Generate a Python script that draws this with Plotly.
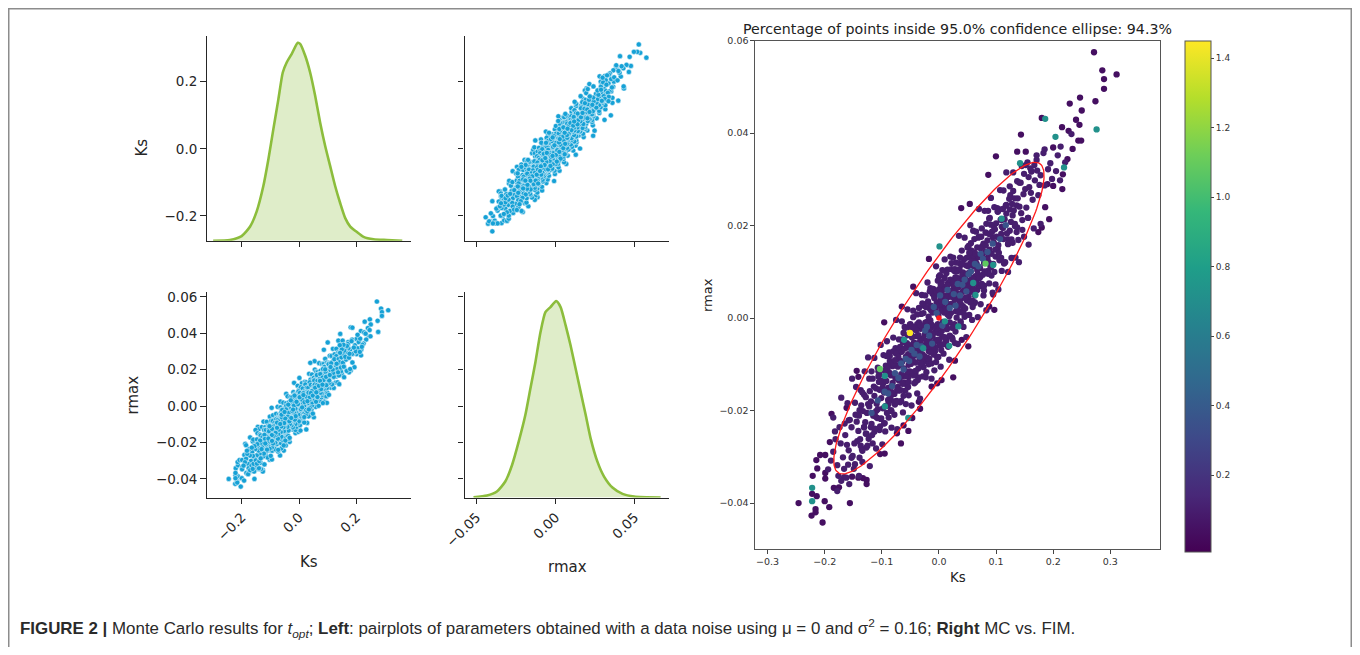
import numpy as np
import plotly.graph_objects as go

# The page body keeps its default 8px margin, so the figure is 16px smaller than the window
PAGE_W, PAGE_H, BODY = 1360, 655, 8
W, H = PAGE_W - 2 * BODY, PAGE_H - 2 * BODY

# ---------------- data ----------------
# KDE of Ks (diagonal, top-left)
kde_ks_x = [-0.300, -0.2415, -0.2005, -0.171, -0.148, -0.125, -0.1073, -0.090, -0.0724, -0.057,
            -0.043, -0.0256, -0.0047, 0.0035, 0.021, 0.0385, 0.056, 0.0735, 0.091, 0.1085,
            0.126, 0.1435, 0.161, 0.1785, 0.1995, 0.225, 0.260, 0.307, 0.360]
kde_ks_d = [0.0, 0.02, 0.13, 0.40, 0.83, 1.54, 2.30, 3.15, 4.00, 4.76,
            5.05, 5.29, 5.60, 5.57, 5.24, 4.76, 4.10, 3.34, 2.68, 2.11,
            1.54, 1.06, 0.64, 0.40, 0.26, 0.11, 0.04, 0.02, 0.0]
# KDE of rmax (diagonal, bottom-right)
kde_rmax_x = [-0.0519, -0.0434, -0.0371, -0.0318, -0.0275, -0.0233, -0.0191, -0.0159, -0.0127, -0.0095,
              -0.0064, -0.0032, 0.0004, 0.0032, 0.0064, 0.0095, 0.0127, 0.0159, 0.0191, 0.0222,
              0.0265, 0.0307, 0.036, 0.0424, 0.0498, 0.0665]
kde_rmax_d = [0.05, 0.30, 0.91, 2.44, 4.97, 8.53, 12.59, 16.65, 20.71, 25.28,
              28.32, 29.09, 30.0, 29.09, 26.29, 23.25, 19.70, 16.14, 12.59, 9.04,
              5.48, 3.20, 1.52, 0.56, 0.15, 0.0]

# Monte Carlo samples (Ks, rmax), grouped by the density colour seen in the right panel
mc_body_pos = [
    (-0.008,-0.0052),(0.003,0.0041),(-0.002,-0.0013),(0.007,0.0068),(-0.006,0.0021),(0.001,-0.0046),(0.009,0.0012),
    (-0.004,0.0057),(0.005,-0.0028),(-0.009,-0.0079),(0.002,0.0093),(-0.001,0.0006),(0.006,0.0025),(-0.007,-0.0031),
    (0.004,-0.0069),(-0.003,0.0034),(0.008,0.0049),(-0.005,-0.0095),(0.000,0.0062),(-0.010,0.0014),(0.010,-0.0041),
    (0.002,-0.0017),(-0.006,-0.0064),(0.006,0.0104),(-0.002,0.0081),(0.004,0.0017),(-0.008,0.0043),(0.001,0.0029),
    (0.009,-0.0012),(-0.004,-0.0022),(0.007,-0.0057),(-0.001,-0.0084),(0.003,0.0073),(-0.009,-0.0018),(0.005,0.0036),
    (-0.003,-0.0047),
    (0.012,0.0021),(0.018,0.0075),(0.025,0.0032),(0.014,-0.0024),(0.029,0.0088),(0.021,0.0011),(0.016,0.0049),
    (0.027,-0.0013),(0.011,0.0062),(0.023,0.0054),(0.019,-0.0038),(0.013,0.0097),(0.028,0.0041),(0.015,0.0008),
    (0.022,0.0119),(0.026,0.0067),(0.017,0.0027),(0.024,-0.0046),(0.011,-0.0009),(0.020,0.0083),(0.030,0.0015),
    (0.014,0.0044),(0.027,0.0102),(0.019,0.0059),(0.012,0.0036),(0.023,-0.0021),(0.016,-0.0062),(0.028,0.0058),
    (0.021,0.0031),(0.025,0.0079),(0.013,0.0016),(0.018,0.0004),(0.029,-0.0029),(0.015,0.0071),(0.022,0.0046),
    (0.032,0.0049),(0.041,0.0093),(0.047,0.0061),(0.035,0.0012),(0.044,0.0127),(0.038,0.0071),(0.049,0.0038),
    (0.031,0.0087),(0.043,0.0024),(0.036,0.0106),(0.046,0.0089),(0.039,0.0042),(0.033,0.0018),(0.048,0.0114),
    (0.042,0.0057),(0.034,0.0066),(0.045,0.0003),(0.037,0.0131),(0.050,0.0076),(0.040,0.0028),(0.032,0.0101),
    (0.047,0.0045),(0.035,0.0079),(0.044,0.0068),(0.038,-0.0011),(0.041,0.0117),(0.049,0.0096),(0.033,0.0053),
    (0.046,0.0021),(0.036,0.0035),(0.043,0.0084),
    (0.052,0.0066),(0.058,0.0128),(0.064,0.0091),(0.055,0.0034),(0.067,0.0153),(0.061,0.0112),(0.053,0.0098),
    (0.069,0.0071),(0.057,0.0146),(0.063,0.0049),(0.066,0.0118),(0.054,0.0081),(0.060,0.0136),(0.068,0.0095),
    (0.056,0.0057),(0.062,0.0171),(0.051,0.0112),(0.065,0.0076),(0.059,0.0024),(0.070,0.0132),(0.053,0.0141),
    (0.067,0.0104),(0.058,0.0087),(0.064,0.0139),(0.055,0.0119),(0.061,0.0063),
    (0.072,0.0108),(0.078,0.0161),(0.084,0.0127),(0.075,0.0074),(0.088,0.0182),(0.081,0.0143),(0.073,0.0151),
    (0.086,0.0096),(0.079,0.0119),(0.083,0.0204),(0.076,0.0133),(0.089,0.0148),(0.071,0.0087),(0.085,0.0168),
    (0.080,0.0101),(0.074,0.0176),(0.087,0.0121),(0.077,0.0094),(0.082,0.0157),(0.090,0.0113),
    (0.092,0.0139),(0.098,0.0192),(0.104,0.0158),(0.095,0.0117),(0.108,0.0213),(0.101,0.0176),(0.093,0.0187),
    (0.106,0.0129),(0.099,0.0148),(0.103,0.0231),(0.096,0.0164),(0.109,0.0182),(0.091,0.0202),(0.105,0.0141),
    (0.110,0.0198),
    (0.113,0.0171),(0.118,0.0226),(0.124,0.0189),(0.115,0.0214),(0.128,0.0247),(0.121,0.0161),(0.126,0.0208),
    (0.112,0.0236),(0.119,0.0183),(0.129,0.0222),(0.123,0.0258),
    (0.133,0.0204),(0.138,0.0259),(0.144,0.0227),(0.136,0.0186),(0.148,0.0268),(0.141,0.0241),(0.131,0.0233),
    (0.146,0.0212),
    (0.153,0.0239),(0.158,0.0283),(0.164,0.0256),(0.156,0.0217),(0.168,0.0298),(0.161,0.0271),
    (0.174,0.0266),(0.178,0.0309),(0.185,0.0287),(0.172,0.0319),
    (0.162,0.0318),(0.171,0.0342),(0.195,0.0335),(0.205,0.0318),(0.208,0.0352),(0.198,0.0301),(0.212,0.0298),
    (0.183,0.0357),(0.167,0.0331),(0.157,0.0305),(0.176,0.0288),(0.191,0.0322),(0.221,0.0337),(0.232,0.0398),
    (0.213,0.0371),(0.155,0.0337),(0.149,0.0312),(0.143,0.0293),
]
mc_body_neg = [
    (-0.012,-0.0019),(-0.018,-0.0071),(-0.025,-0.0036),(-0.014,0.0027),(-0.029,-0.0091),(-0.021,-0.0008),(-0.016,-0.0052),
    (-0.027,0.0011),(-0.011,-0.0064),(-0.023,-0.0057),(-0.019,0.0036),(-0.013,-0.0098),(-0.028,-0.0044),(-0.015,-0.0005),
    (-0.022,-0.0117),(-0.026,-0.0063),(-0.017,-0.0024),(-0.024,0.0049),(-0.011,0.0012),(-0.020,-0.0086),(-0.030,-0.0018),
    (-0.014,-0.0041),(-0.027,-0.0106),(-0.019,-0.0062),(-0.012,-0.0033),(-0.023,0.0024),(-0.016,0.0058),(-0.028,-0.0061),
    (-0.021,-0.0029),(-0.025,-0.0082),(-0.013,-0.0014),(-0.018,0.0003),(-0.029,0.0032),(-0.015,-0.0074),(-0.022,-0.0049),
    (-0.032,-0.0046),(-0.041,-0.0096),(-0.047,-0.0058),(-0.035,-0.0009),(-0.044,-0.0124),(-0.038,-0.0073),(-0.049,-0.0035),
    (-0.031,-0.0089),(-0.043,-0.0021),(-0.036,-0.0109),(-0.046,-0.0092),(-0.039,-0.0039),(-0.033,-0.0015),(-0.048,-0.0117),
    (-0.042,-0.0054),(-0.034,-0.0069),(-0.045,0.0002),(-0.037,-0.0134),(-0.050,-0.0079),(-0.040,-0.0026),(-0.032,-0.0098),
    (-0.047,-0.0042),(-0.035,-0.0077),(-0.044,-0.0065),(-0.038,0.0008),(-0.041,-0.0114),(-0.049,-0.0099),(-0.033,-0.0051),
    (-0.046,-0.0018),(-0.036,-0.0037),(-0.043,-0.0081),
    (-0.052,-0.0063),(-0.058,-0.0125),(-0.064,-0.0094),(-0.055,-0.0037),(-0.067,-0.0156),(-0.061,-0.0109),(-0.053,-0.0101),
    (-0.069,-0.0068),(-0.057,-0.0143),(-0.063,-0.0052),(-0.066,-0.0121),(-0.054,-0.0078),(-0.060,-0.0139),(-0.068,-0.0092),
    (-0.056,-0.0054),(-0.062,-0.0168),(-0.051,-0.0115),(-0.065,-0.0073),(-0.059,-0.0021),(-0.070,-0.0135),(-0.053,-0.0138),
    (-0.067,-0.0101),(-0.058,-0.0084),(-0.064,-0.0142),(-0.055,-0.0116),(-0.061,-0.0066),
    (-0.072,-0.0105),(-0.078,-0.0164),(-0.084,-0.0124),(-0.075,-0.0077),(-0.088,-0.0185),(-0.081,-0.0140),(-0.073,-0.0154),
    (-0.086,-0.0093),(-0.079,-0.0122),(-0.083,-0.0201),(-0.076,-0.0130),(-0.089,-0.0151),(-0.071,-0.0084),(-0.085,-0.0171),
    (-0.080,-0.0098),(-0.074,-0.0179),(-0.087,-0.0118),(-0.077,-0.0091),(-0.082,-0.0160),(-0.090,-0.0110),
    (-0.092,-0.0136),(-0.098,-0.0195),(-0.104,-0.0155),(-0.095,-0.0114),(-0.108,-0.0216),(-0.101,-0.0173),(-0.093,-0.0190),
    (-0.106,-0.0126),(-0.099,-0.0151),(-0.103,-0.0234),(-0.096,-0.0161),(-0.109,-0.0185),(-0.091,-0.0205),(-0.105,-0.0138),
    (-0.110,-0.0201),
    (-0.113,-0.0168),(-0.118,-0.0229),(-0.124,-0.0186),(-0.115,-0.0211),(-0.128,-0.0250),(-0.121,-0.0158),(-0.126,-0.0205),
    (-0.112,-0.0239),(-0.119,-0.0180),(-0.129,-0.0225),(-0.123,-0.0261),
    (-0.133,-0.0201),(-0.138,-0.0262),(-0.144,-0.0224),(-0.136,-0.0189),(-0.148,-0.0271),(-0.141,-0.0244),(-0.131,-0.0236),
    (-0.146,-0.0209),
    (-0.153,-0.0236),(-0.158,-0.0286),(-0.164,-0.0253),(-0.156,-0.0220),(-0.168,-0.0301),(-0.161,-0.0274),
    (-0.172,-0.0271),(-0.178,-0.0318),(-0.185,-0.0289),(-0.176,-0.0341),(-0.181,-0.0262),(-0.189,-0.0308),(-0.171,-0.0352),
    (-0.194,-0.0327),(-0.166,-0.0326),(-0.159,-0.0317),(-0.162,-0.0345),(-0.151,-0.0298),(-0.147,-0.0316),(-0.139,-0.0302),
    (-0.134,-0.0287),(-0.174,-0.0236),(-0.165,-0.0228),(-0.182,-0.0245),
]
mc_wide = [
    (-0.185,-0.0215),(-0.178,-0.0374),(-0.171,-0.0172),(-0.166,-0.0344),(-0.160,-0.0184),(-0.157,-0.0359),
    (-0.152,-0.0131),(-0.149,-0.0326),(-0.145,-0.0149),(-0.140,-0.0341),(-0.137,-0.0156),(-0.134,-0.0311),
    (-0.130,-0.0115),(-0.127,-0.0280),(-0.124,-0.0085),(-0.121,-0.0320),(-0.118,-0.0115),(-0.116,-0.0271),
    (-0.113,-0.0086),(-0.110,-0.0282),(-0.107,-0.0107),(-0.104,-0.0242),(-0.102,-0.0058),(-0.099,-0.0273),
    (-0.097,-0.0080),(-0.094,-0.0245),(-0.091,-0.0050),(-0.088,-0.0215),(-0.086,-0.0082),(-0.083,-0.0237),
    (-0.080,-0.0042),(-0.078,-0.0209),(-0.075,-0.0004),(-0.073,-0.0240),(-0.070,-0.0046),(-0.068,-0.0182),
    (-0.065,-0.0007),(-0.063,-0.0204),(-0.060,-0.0019),(-0.058,-0.0186),(-0.055,0.0019),(-0.053,-0.0167),
    (-0.050,-0.0013),(-0.048,-0.0189),(-0.045,0.0016),(-0.043,-0.0141),(-0.040,0.0054),(-0.038,-0.0163),
    (-0.035,0.0022),(-0.033,-0.0174),(-0.030,0.0050),(-0.028,-0.0126),(-0.025,0.0029),(-0.023,-0.0128),
    (-0.020,0.0077),(-0.018,-0.0100),(-0.015,0.0065),(-0.013,-0.0131),(-0.010,0.0063),(-0.008,-0.0113),
    (-0.005,0.0112),(-0.003,-0.0085),(0.000,0.0090),(0.003,-0.0105),(0.005,0.0078),(0.008,-0.0077),
    (0.010,0.0127),(0.013,-0.0049),(0.015,0.0105),(0.018,-0.0090),(0.020,0.0133),(0.023,-0.0042),
    (0.025,0.0131),(0.028,-0.0054),(0.030,0.0120),(0.033,-0.0056),(0.035,0.0178),(0.038,-0.0007),
    (0.040,0.0146),(0.043,-0.0019),(0.045,0.0174),(0.048,-0.0041),(0.050,0.0153),(0.053,0.0007),
    (0.055,0.0201),(0.058,-0.0004),(0.060,0.0189),(0.063,0.0034),(0.065,0.0187),(0.068,0.0002),
    (0.070,0.0236),(0.073,0.0030),(0.075,0.0194),(0.078,0.0049),(0.080,0.0232),(0.083,0.0017),
    (0.086,0.0232),(0.088,0.0075),(0.091,0.0260),(0.094,0.0055),(0.097,0.0240),(0.099,0.0073),
    (0.102,0.0238),(0.104,0.0062),(0.107,0.0277),(0.110,0.0102),(0.113,0.0276),(0.116,0.0121),
    (0.118,0.0315),(0.121,0.0100),(0.124,0.0285),(0.127,0.0130),(0.130,0.0315),(0.134,0.0131),
    (0.137,0.0296),(0.140,0.0121),(0.145,0.0329),(0.149,0.0176),(0.152,0.0331),(0.157,0.0159),
    (0.160,0.0324),(0.166,0.0194),(0.171,0.0352),(0.178,0.0204),(0.185,0.0365),
]
mc_fill = [
    (-0.158,-0.0221),(-0.153,-0.0302),(-0.147,-0.0183),(-0.143,-0.0266),(-0.139,-0.0199),(-0.135,-0.0283),
    (-0.131,-0.0166),(-0.127,-0.0250),(-0.122,-0.0131),(-0.117,-0.0253),(-0.114,-0.0148),(-0.111,-0.0213),
    (-0.106,-0.0115),(-0.102,-0.0218),(-0.100,-0.0135),(-0.096,-0.0228),(-0.093,-0.0103),(-0.090,-0.0189),
    (-0.087,-0.0074),(-0.084,-0.0199),(-0.081,-0.0104),(-0.079,-0.0180),(-0.076,-0.0065),(-0.072,-0.0149),
    (-0.069,-0.0074),(-0.066,-0.0179),(-0.064,-0.0046),(-0.061,-0.0141),(-0.057,-0.0064),(-0.054,-0.0149),
    (-0.051,-0.0014),(-0.047,-0.0118),(-0.044,-0.0023),(-0.041,-0.0138),(-0.037,-0.0021),(-0.034,-0.0086),
    (-0.031,0.0009),(-0.027,-0.0095),(-0.024,-0.0010),(-0.020,-0.0093),(-0.017,0.0022),(-0.014,-0.0063),
    (-0.011,0.0052),(-0.007,-0.0072),(-0.004,0.0033),(-0.001,-0.0032),(0.002,0.0063),(0.006,-0.0040),
    (0.009,0.0045),(0.012,-0.0050),(0.016,0.0076),(0.019,-0.0009),(0.022,0.0106),(0.026,-0.0017),
    (0.029,0.0088),(0.032,0.0023),(0.036,0.0119),(0.039,0.0014),(0.042,0.0099),(0.046,0.0006),
    (0.049,0.0131),(0.052,0.0046),(0.056,0.0162),(0.059,0.0037),(0.062,0.0142),(0.066,0.0079),
    (0.069,0.0174),(0.072,0.0069),(0.076,0.0155),(0.079,0.0060),(0.082,0.0185),(0.086,0.0102),
    (0.089,0.0217),(0.092,0.0092),(0.096,0.0198),(0.099,0.0133),(0.103,0.0230),(0.106,0.0125),
    (0.110,0.0212),(0.114,0.0118),(0.117,0.0243),(0.121,0.0160),(0.125,0.0266),(0.129,0.0163),
    (0.133,0.0259),(0.137,0.0196),(0.141,0.0293),(0.146,0.0191),(0.151,0.0279),(0.156,0.0217),
    (0.162,0.0317),
]
mc_dense = [
    (-0.140,-0.0211),(-0.137,-0.0276),(-0.134,-0.0161),(-0.131,-0.0236),(-0.128,-0.0171),(-0.125,-0.0276),
    (-0.122,-0.0191),(-0.119,-0.0236),(-0.116,-0.0131),(-0.113,-0.0246),(-0.110,-0.0152),(-0.107,-0.0197),
    (-0.104,-0.0122),(-0.101,-0.0217),(-0.098,-0.0142),(-0.095,-0.0227),(-0.092,-0.0082),(-0.089,-0.0177),
    (-0.086,-0.0102),(-0.083,-0.0147),(-0.080,-0.0072),(-0.077,-0.0187),(-0.074,-0.0102),(-0.071,-0.0157),
    (-0.068,-0.0062),(-0.065,-0.0127),(-0.062,-0.0032),(-0.059,-0.0157),(-0.056,-0.0062),(-0.053,-0.0127),
    (-0.050,-0.0023),(-0.047,-0.0088),(-0.044,-0.0053),(-0.041,-0.0118),(-0.038,-0.0013),(-0.035,-0.0128),
    (-0.032,-0.0023),(-0.029,-0.0078),(-0.026,0.0027),(-0.023,-0.0088),(-0.020,-0.0023),(-0.017,-0.0088),
    (-0.014,0.0017),(-0.011,-0.0038),(-0.008,0.0047),(-0.005,-0.0048),(-0.002,0.0027),(0.001,-0.0058),
    (0.004,0.0057),(0.007,-0.0008),(0.010,0.0087),(0.013,-0.0019),(0.016,0.0046),(0.019,-0.0039),
    (0.022,0.0076),(0.025,0.0031),(0.028,0.0106),(0.031,0.0001),(0.034,0.0086),(0.037,0.0031),
    (0.040,0.0116),(0.043,0.0011),(0.046,0.0086),(0.049,0.0041),(0.052,0.0156),(0.055,0.0071),
    (0.058,0.0136),(0.061,0.0031),(0.064,0.0126),(0.067,0.0061),(0.070,0.0176),(0.073,0.0090),
    (0.076,0.0155),(0.079,0.0070),(0.082,0.0185),(0.085,0.0130),(0.088,0.0215),(0.091,0.0110),
    (0.094,0.0175),(0.097,0.0100),(0.100,0.0205),(0.103,0.0150),(0.106,0.0235),(0.109,0.0130),
    (0.112,0.0195),(0.115,0.0120),(0.118,0.0245),(0.121,0.0170),(0.124,0.0235),(0.127,0.0170),
    (0.130,0.0275),(0.133,0.0199),(0.136,0.0244),(0.139,0.0169),
]
mc_core = [
    (-0.004,0.0011),(0.011,0.0035),(-0.017,-0.0038),(0.026,0.0052),(-0.031,-0.0061),(0.037,0.0049),(-0.043,-0.0077),
    (0.052,0.0095),(-0.058,-0.0088),(0.063,0.0117),(-0.071,-0.0129),(0.077,0.0128),(-0.082,-0.0147),(0.006,-0.0016),
    (-0.009,0.0024),(0.019,0.0022),(-0.024,-0.0027),(0.033,0.0074),(-0.039,-0.0058),(0.045,0.0083),(-0.048,-0.0069),
    (0.056,0.0101),(-0.062,-0.0111),(0.069,0.0112),(-0.077,-0.0119),(0.085,0.0143),(-0.089,-0.0163),(0.002,0.0049),
    (-0.012,-0.0055),(0.015,0.0061),(-0.021,-0.0019),(0.029,0.0027),(-0.034,-0.0083),(0.041,0.0072),(-0.052,-0.0093),
    (0.048,0.0058),(-0.066,-0.0098),(0.073,0.0139),(-0.095,-0.0159),(0.094,0.0161),(-0.107,-0.0178),(0.107,0.0171),
    (-0.118,-0.0205),(0.117,0.0201),
]
mc_tail = [
    (0.2715,0.0575),(0.286,0.0536),(0.289,0.0517),(0.289,0.0496),(0.311,0.0527),(0.247,0.0477),(0.229,0.0464),
    (0.250,0.0449),(0.274,0.0469),(0.240,0.0429),(0.246,0.0418),(0.180,0.0433),(0.2155,0.0413),(0.227,0.0405),
    (0.244,0.0384),(0.249,0.0384),(0.234,0.0366),(0.200,0.0369),(0.225,0.0344),(0.217,0.0311),(0.216,0.0279),
    (0.200,0.0286),(0.190,0.0290),(0.193,0.0214),(0.180,0.0196),(0.174,0.0186),(0.186,0.0240),(0.1436,0.0397),
    (0.0998,0.0350),(0.0864,0.0310),(0.137,0.0360),(0.152,0.0360),(0.054,0.0247),(0.039,0.0238),(-0.0175,0.0128),
    (-0.045,0.0068),(-0.065,0.0025),
    (-0.2457,-0.0400),(-0.223,-0.0427),(-0.2037,-0.0442),(-0.216,-0.0413),(-0.216,-0.0420),(-0.214,-0.0385),
    (-0.222,-0.0380),(-0.200,-0.0396),(-0.192,-0.0409),(-0.1559,-0.0400),(-0.221,-0.0341),(-0.213,-0.0325),
    (-0.199,-0.0335),(-0.199,-0.0347),(-0.184,-0.0367),(-0.175,-0.0366),(-0.2146,-0.0307),(-0.208,-0.0296),
    (-0.199,-0.0296),(-0.188,-0.0207),(-0.191,-0.0268),(-0.1617,-0.0194),(-0.1266,-0.0350),(-0.1266,-0.0359),
    (-0.133,-0.0346),(-0.141,-0.0345),(-0.152,-0.0343),(-0.103,-0.0294),(-0.095,-0.0293),(-0.0665,-0.0271),
    (-0.0535,-0.0244),(-0.0735,-0.0249),(-0.0467,-0.0216),(-0.033,-0.0196),(-0.0352,-0.0181),(-0.062,-0.0232),
    (-0.0128,-0.0148),(-0.003,-0.0141),(0.0046,-0.0134),(0.028,-0.0092),(0.025,-0.0128),(0.0514,-0.0061),
    (0.040,-0.0047),(0.088,0.0025),(0.097,0.0018),(0.095,0.0051),(-0.0958,-0.0009),(-0.144,-0.0114),(-0.141,-0.0127),
]
mc_teal = [
    (0.276,0.0408),(0.186,0.0431),(0.204,0.0392),(0.219,0.0326),(-0.222,-0.0367),(-0.222,-0.0396),(0.001,0.0155),
    (-0.0946,-0.0125),(-0.061,-0.0047),(-0.0275,-0.0065),(0.0105,-0.0007),(0.034,-0.0018),(0.064,0.0050),
    (-0.0946,-0.0191),(-0.0537,-0.0216),(0.018,-0.0060),(0.095,0.0115),(0.060,0.0076),(0.1098,0.0215),(0.142,0.0335),
]
mc_green = [(-0.1033,-0.0110),(0.0815,0.0118)]
mc_peak = [(-0.0508,-0.0032)]

# density value (colour) of each group
dens_tail, dens_body, dens_core, dens_teal, dens_green, dens_peak = 0.04, 0.10, 0.36, 0.72, 1.08, 1.45

# FIM estimate and its 95% confidence ellipse
fim_center = (0.0, 0.0)
fim_sd_ks = 0.0752
fim_sd_rmax = 0.01377
fim_rho = 0.915
conf_pct = 95.0
chi2_95_2dof = 5.991
pct_inside = 94.3

# ticks
ks_ticks = [-0.2, 0.0, 0.2]
rmax_xticks = [-0.05, 0.0, 0.05]
rmax_yticks = [-0.04, -0.02, 0.0, 0.02, 0.04, 0.06]
rp_xticks = [-0.3, -0.2, -0.1, 0.0, 0.1, 0.2, 0.3]
rp_yticks = [-0.04, -0.02, 0.0, 0.02, 0.04, 0.06]
cb_ticks = [0.2, 0.4, 0.6, 0.8, 1.0, 1.2, 1.4]

# ---------------- build ----------------
groups = [(mc_tail, dens_tail), (mc_wide, dens_body), (mc_fill, dens_body), (mc_dense, dens_body),
          (mc_body_pos, dens_body), (mc_body_neg, dens_body), (mc_core, dens_core), (mc_teal, dens_teal),
          (mc_green, dens_green), (mc_peak, dens_peak)]
all_ks, all_rmax, all_dens = [], [], []
for pts, d in groups:
    for k, r in pts:
        all_ks.append(k); all_rmax.append(r); all_dens.append(d)

# page pixel -> paper fraction
def px_x(p): return (p - BODY) / W
def px_y(p): return 1 - (p - BODY) / H

FONT = "DejaVu Sans"
INK = "#262626"
KDE_LINE = "#8cbd3c"
KDE_FILL = "rgba(140,189,60,0.28)"
DOT = "#16a1d6"

col0 = [px_x(206.7), px_x(411.0)]
col1 = [px_x(464.5), px_x(669.0)]
row0 = [px_y(240.7), px_y(35.5)]
row1 = [px_y(497.5), px_y(291.5)]

ks_col_range = [-0.3225, 0.3905]
rmax_col_range = [-0.0576, 0.0718]
ks_row_range = [-0.2736, 0.3376]
rmax_row_range = [-0.0502, 0.0630]

fig = go.Figure()

# diagonal KDEs
fig.add_trace(go.Scatter(x=kde_ks_x, y=kde_ks_d, xaxis="x", yaxis="y5", mode="lines",
                         line=dict(color=KDE_LINE, width=2.6, shape="spline", smoothing=0.6),
                         fill="tozeroy", fillcolor=KDE_FILL, hoverinfo="skip"))
fig.add_trace(go.Scatter(x=kde_rmax_x, y=kde_rmax_d, xaxis="x4", yaxis="y6", mode="lines",
                         line=dict(color=KDE_LINE, width=2.6, shape="spline", smoothing=0.6),
                         fill="tozeroy", fillcolor=KDE_FILL, hoverinfo="skip"))
# empty traces so the base axes of diagonal panels exist
fig.add_trace(go.Scatter(x=[None], y=[None], xaxis="x", yaxis="y", mode="markers"))
fig.add_trace(go.Scatter(x=[None], y=[None], xaxis="x4", yaxis="y4", mode="markers"))

# off-diagonal scatters
pp_marker = dict(size=5.2, color=DOT, line=dict(color="white", width=0.5))
fig.add_trace(go.Scatter(x=all_rmax, y=all_ks, xaxis="x2", yaxis="y2", mode="markers", marker=pp_marker))
fig.add_trace(go.Scatter(x=all_ks, y=all_rmax, xaxis="x3", yaxis="y3", mode="markers", marker=pp_marker))

# right panel: MC vs FIM
fig.add_trace(go.Scatter(
    x=all_ks, y=all_rmax, xaxis="x7", yaxis="y7", mode="markers",
    marker=dict(size=6.3, color=all_dens, colorscale="Viridis", cmin=-0.02, cmax=1.45,
                line=dict(width=0),
                colorbar=dict(x=px_x(1185), xanchor="left", xpad=0, ypad=0,
                              y=px_y((40.7 + 551.7) / 2), yanchor="middle",
                              len=(551.7 - 40.7) / H, lenmode="fraction", thickness=26,
                              thicknessmode="pixels", outlinecolor="#555555", outlinewidth=1,
                              tickvals=cb_ticks, tickformat=".1f", ticks="outside", ticklen=3,
                              tickcolor="#444", tickfont=dict(family=FONT, size=9, color="#333")))))

cov = np.array([[fim_sd_ks ** 2, fim_rho * fim_sd_ks * fim_sd_rmax],
                [fim_rho * fim_sd_ks * fim_sd_rmax, fim_sd_rmax ** 2]]) * chi2_95_2dof
vals, vecs = np.linalg.eigh(cov)
t = np.linspace(0, 2 * np.pi, 240)
ell = vecs @ (np.sqrt(vals)[:, None] * np.vstack([np.cos(t), np.sin(t)]))
fig.add_trace(go.Scatter(x=ell[0] + fim_center[0], y=ell[1] + fim_center[1], xaxis="x7", yaxis="y7",
                         mode="lines", line=dict(color="#ff1a1a", width=1.3)))
fig.add_trace(go.Scatter(x=[fim_center[0]], y=[fim_center[1]], xaxis="x7", yaxis="y7", mode="markers",
                         marker=dict(color="#ff1a1a", size=5.5)))


def spine(**kw):
    d = dict(showline=True, linecolor=INK, linewidth=1.3, ticks="outside", ticklen=5.5, tickwidth=1.3,
             tickcolor=INK, showgrid=False, zeroline=False,
             tickfont=dict(family=FONT, size=13.5, color=INK))
    d.update(kw)
    return d


def boxed(**kw):
    d = dict(showline=True, mirror=True, linecolor="#555555", linewidth=1.2, ticks="outside", ticklen=3.5,
             tickwidth=1, tickcolor="#444", showgrid=False, zeroline=False,
             tickfont=dict(family=FONT, size=9.5, color="#333"))
    d.update(kw)
    return d


fig.update_layout(
    width=W, height=H, margin=dict(l=0, r=0, t=0, b=0, autoexpand=False),
    paper_bgcolor="white", plot_bgcolor="white", showlegend=False,
    xaxis=spine(domain=col0, anchor="y", range=ks_col_range, tickvals=ks_ticks, showticklabels=False),
    yaxis=spine(domain=row0, anchor="x", range=ks_row_range, tickvals=ks_ticks, tickformat=".1f"),
    xaxis2=spine(domain=col1, anchor="y2", range=rmax_col_range, tickvals=rmax_xticks, showticklabels=False),
    yaxis2=spine(domain=row0, anchor="x2", range=ks_row_range, tickvals=ks_ticks, showticklabels=False),
    xaxis3=spine(domain=col0, anchor="y3", range=ks_col_range, tickvals=ks_ticks, tickformat=".1f", tickangle=-45),
    yaxis3=spine(domain=row1, anchor="x3", range=rmax_row_range, tickvals=rmax_yticks, tickformat=".2f"),
    xaxis4=spine(domain=col1, anchor="y4", range=rmax_col_range, tickvals=rmax_xticks, tickformat=".2f", tickangle=-45),
    yaxis4=spine(domain=row1, anchor="x4", range=rmax_row_range, tickvals=rmax_yticks, showticklabels=False),
    yaxis5=dict(overlaying="y", anchor="x", range=[0, max(kde_ks_d) * 1.037], visible=False),
    yaxis6=dict(overlaying="y4", anchor="x4", range=[0, max(kde_rmax_d) * 1.049], visible=False),
    xaxis7=boxed(domain=[px_x(755), px_x(1160)], anchor="y7", range=[-0.322, 0.387],
                 tickvals=rp_xticks, tickformat=".1f"),
    yaxis7=boxed(domain=[px_y(549.3), px_y(40.7)], anchor="x7", range=[-0.05, 0.06],
                 tickvals=rp_yticks, tickformat=".2f"),
)

ann = []
def label(text, x, y, size, angle=0, font=FONT, color=INK, xanchor="center", yanchor="middle"):
    ann.append(dict(text=text, x=px_x(x), y=px_y(y), xref="paper", yref="paper", showarrow=False,
                    textangle=angle, xanchor=xanchor, yanchor=yanchor,
                    font=dict(family=font, size=size, color=color)))

label("Ks", 141.5, 148, 15, angle=-90)
label("rmax", 132.5, 395, 15, angle=-90)
label("Ks", 309, 562, 15)
label("rmax", 567, 567, 15)
label("rmax", 707, 295, 13, angle=-90, color="#222")
label("Ks", 958, 577, 13.3, color="#222")
label(f"Percentage of points inside {conf_pct}% confidence ellipse: {pct_inside}%",
      957.5, 39, 14.2, color="#222", yanchor="bottom")
label("<b>FIGURE 2 |</b> Monte Carlo results for <i>t</i><sub><i>opt</i></sub>; <b>Left</b>: pairplots of "
      "parameters obtained with a data noise using μ = 0 and σ<sup>2</sup> = 0.16; <b>Right</b> MC vs. FIM.",
      18, 628, 16.9, font="Liberation Sans", color="#2a2a2a", xanchor="left")
fig.update_layout(annotations=ann)

# grey frame around the whole figure (its bottom edge lies below the window)
fig.add_shape(type="rect", xref="paper", yref="paper", x0=px_x(8.75), x1=px_x(1351.25), y0=-0.1, y1=px_y(8.75),
              line=dict(color="#8c8c8c", width=1.5), fillcolor="rgba(0,0,0,0)", layer="below")

fig.write_html("out.html")
